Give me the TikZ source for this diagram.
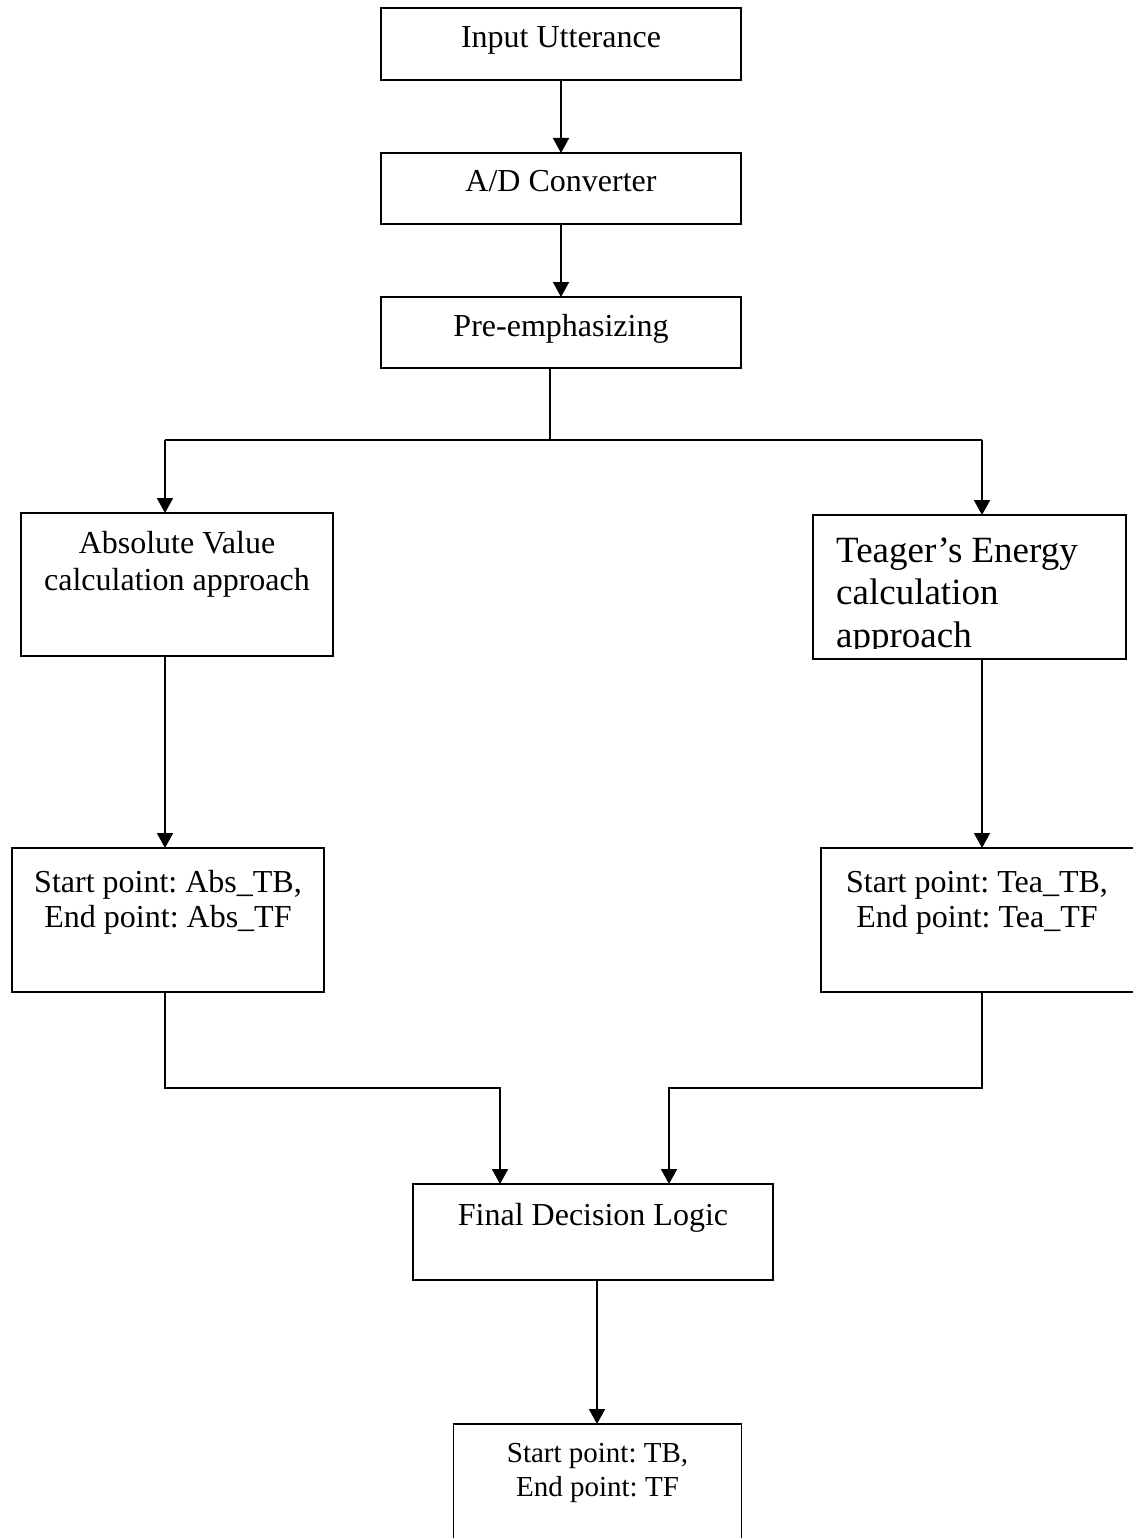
\documentclass[tikz,border=0pt]{standalone}
\usepackage{fontspec}
\setmainfont{Liberation Serif}
\usetikzlibrary{arrows.meta}
\frenchspacing
\begin{document}
\begin{tikzpicture}[x=1pt,y=-1pt,
  box/.style={draw,line width=1.8pt,rectangle,inner sep=0pt,outer sep=0pt},
  txt/.style={inner sep=0pt,anchor=base,font=\fontsize{32}{36}\selectfont},
  smalltxt/.style={inner sep=0pt,anchor=base,font=\fontsize{29}{34}\selectfont},
  bigtxt/.style={inner sep=0pt,anchor=base west,font=\fontsize{37}{42}\selectfont},
  conn/.style={line width=1.8pt},
  arr/.style={conn,-{Triangle[width=16pt,length=15pt]}}]
\useasboundingbox (0,0) rectangle (1132,1538);
% boxes
\node[box,minimum width=360pt,minimum height=72pt] (inp) at (561,44) {};
\node[box,minimum width=360pt,minimum height=71pt] (ad) at (561,188.5) {};
\node[box,minimum width=360pt,minimum height=71pt] (pre) at (561,332.5) {};
\node[box,minimum width=312pt,minimum height=143pt] (abs) at (177,584.5) {};
\node[box,minimum width=313pt,minimum height=144pt] (tea) at (969.5,587) {};
\node[box,minimum width=312pt,minimum height=144pt] (absr) at (168,920) {};
\node[box,minimum width=330pt,minimum height=144pt] (tear) at (986,920) {};
\node[box,minimum width=288pt,minimum height=160pt] (out) at (597.5,1504) {};
\node[box,minimum width=360pt,minimum height=96pt] (fin) at (593,1232) {};
% texts
\node[txt] (tinp) at (561,48) {Input Utterance};
\node[txt] (tad) at (561,192) {A/D Converter};
\node[txt] (tpre) at (561,336) {Pre-emphasizing};
\node[txt] (tabs1) at (177,553) {Absolute Value};
\node[txt] (tabs2) at (177,590) {calculation approach};
\begin{scope}
\clip (813,515) rectangle (1126,648);
\node[bigtxt] (ttea1) at (836,562) {Teager’s Energy};
\node[bigtxt] (ttea2) at (836,604) {calculation};
\node[bigtxt] (ttea3) at (836,647) {approach};
\end{scope}
\node[txt] (tabsr1) at (168,892) {Start point: Abs\_TB,};
\node[txt] (tabsr2) at (168,927) {End point: Abs\_TF};
\node[txt] (ttear1) at (977,892) {Start point: Tea\_TB,};
\node[txt] (ttear2) at (977,927) {End point: Tea\_TF};
\node[txt] (tfin) at (593,1225) {Final Decision Logic};
\node[smalltxt] (tout1) at (597.5,1462) {Start point: TB,};
\node[smalltxt] (tout2) at (597.5,1496) {End point: TF};
% connectors
\coordinate (split) at (550,440);
\coordinate (lt) at (165,440);
\coordinate (rt) at (982,440);
\coordinate (ml) at (500,1088);
\coordinate (mr) at (669,1088);
\coordinate (fo) at (597,1280);
\draw[arr] (inp.south) -- (ad.north);
\draw[arr] (ad.south) -- (pre.north);
\draw[conn] (pre.south -| split) -- (split);
\draw[conn] (lt) -- (rt);
\draw[arr] (lt) -- (lt |- abs.north);
\draw[arr] (rt) -- (rt |- tea.north);
\draw[arr] (abs.south -| lt) -- (absr.north -| lt);
\draw[arr] (tea.south -| rt) -- (tear.north -| rt);
\draw[arr] (absr.south -| lt) |- (ml) -- (ml |- fin.north);
\draw[arr] (tear.south -| rt) |- (mr) -- (mr |- fin.north);
\draw[arr] (fin.south -| fo) -- (out.north -| fo);
\end{tikzpicture}
\end{document}
